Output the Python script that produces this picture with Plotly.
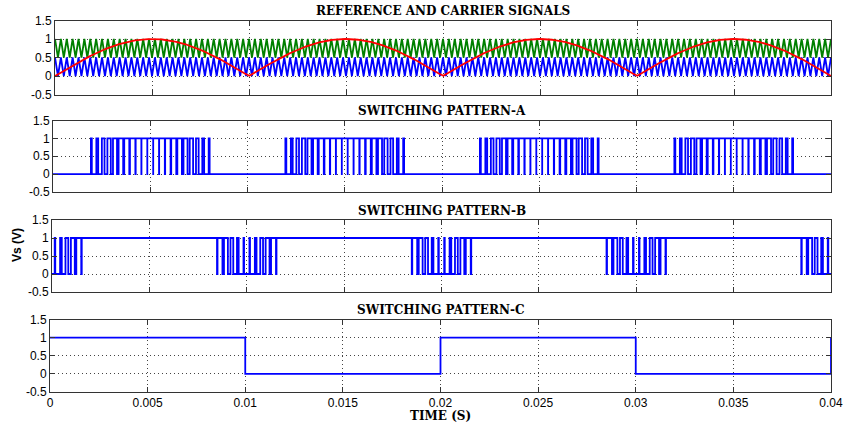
import numpy as np
import plotly.graph_objects as go

# ---- signal parameters and chart text ----
T_END = 0.04                 # s, simulated time span
REF_FREQ = 50.0              # Hz, rectified sine reference
CARRIER_FREQ = 3300.0        # Hz, triangular carriers
UPPER_CARRIER = [0.5, 1.0]   # min / max of the upper (green) carrier
LOWER_CARRIER = [0.0, 0.5]   # min / max of the lower (blue) carrier
PATTERN_C_TIMES = [0.0, 0.01, 0.02, 0.03, 0.04]
PATTERN_C_LEVELS = [1, 0, 1, 0, 1]

X_TICKS = [0, 0.005, 0.01, 0.015, 0.02, 0.025, 0.03, 0.035, 0.04]
X_TICK_TEXT = ["0", "0.005", "0.01", "0.015", "0.02", "0.025", "0.03", "0.035", "0.04"]
Y_TICKS = [-0.5, 0, 0.5, 1, 1.5]
Y_TICK_TEXT = ["-0.5", "0", "0.5", "1", "1.5"]
TITLES = ["REFERENCE AND CARRIER SIGNALS", "SWITCHING PATTERN-A",
          "SWITCHING PATTERN-B", "SWITCHING PATTERN-C"]
X_LABEL = "TIME (S)"
Y_LABEL = "Vs (V)"

BLUE = "#0000FF"
GREEN = "#008000"
RED = "#FF0000"

# ---- waveforms ----
t_fine = np.linspace(0.0, T_END, 400001)
ref_fine = np.abs(np.sin(2 * np.pi * REF_FREQ * t_fine))
phase = (t_fine * CARRIER_FREQ) % 1.0
tri_fine = np.abs(2.0 * phase - 1.0)          # 1 at t=0, 0 at half period


def carrier_level(lims, tri):
    return lims[0] + (lims[1] - lims[0]) * tri


pat_a = (ref_fine > carrier_level(UPPER_CARRIER, tri_fine)).astype(int)
pat_b = (ref_fine > carrier_level(LOWER_CARRIER, tri_fine)).astype(int)


def edges(sig):
    idx = np.flatnonzero(np.diff(sig)) + 1
    keep = np.concatenate(([0], idx, [len(sig) - 1]))
    return t_fine[keep], sig[keep]


ta, ya = edges(pat_a)
tb, yb = edges(pat_b)

# carrier vertices
n_half = int(round(T_END * CARRIER_FREQ * 2))
t_vert = np.arange(n_half + 1) / (2.0 * CARRIER_FREQ)
tri_vert = np.array([1.0 if k % 2 == 0 else 0.0 for k in range(n_half + 1)])
upper_vert = carrier_level(UPPER_CARRIER, tri_vert)
lower_vert = carrier_level(LOWER_CARRIER, tri_vert)

t_ref = np.linspace(0.0, T_END, 2001)
ref = np.abs(np.sin(2 * np.pi * REF_FREQ * t_ref))

# ---- figure ----
W, H = 843, 430
# (left, right, top, bottom) of each axes box in pixels
boxes = [(55, 831, 20.5, 94.5), (53, 831, 120.5, 192),
         (52, 831, 220, 292), (50, 831, 319.5, 392)]

fig = go.Figure()
LW = 1.8
fig.add_trace(go.Scatter(x=t_vert, y=upper_vert, mode="lines",
                         line=dict(color=GREEN, width=LW), xaxis="x", yaxis="y"))
fig.add_trace(go.Scatter(x=t_vert, y=lower_vert, mode="lines",
                         line=dict(color=BLUE, width=LW), xaxis="x", yaxis="y"))
fig.add_trace(go.Scatter(x=t_ref, y=ref, mode="lines",
                         line=dict(color=RED, width=LW), xaxis="x", yaxis="y"))
fig.add_trace(go.Scatter(x=ta, y=ya, mode="lines", line_shape="hv",
                         line=dict(color=BLUE, width=LW), xaxis="x2", yaxis="y2"))
fig.add_trace(go.Scatter(x=tb, y=yb, mode="lines", line_shape="hv",
                         line=dict(color=BLUE, width=LW), xaxis="x3", yaxis="y3"))
fig.add_trace(go.Scatter(x=PATTERN_C_TIMES, y=PATTERN_C_LEVELS, mode="lines",
                         line_shape="hv", line=dict(color=BLUE, width=LW),
                         xaxis="x4", yaxis="y4"))

TICK_FONT = dict(family="Liberation Sans, Arial, sans-serif", size=12, color="#000")
TITLE_FONT = dict(family="DejaVu Serif, Liberation Serif, serif", size=12, color="#000")
YLABEL_FONT = dict(family="Liberation Sans, Arial, sans-serif", size=12, color="#000")
GRID_DASH = "1px,3px"

layout = dict(width=W, height=H,
              margin=dict(l=0, r=0, t=0, b=0, autoexpand=False),
              paper_bgcolor="white", plot_bgcolor="white", showlegend=False)
annotations = []
for i, (l, r, tp, bt) in enumerate(boxes):
    sfx = "" if i == 0 else str(i + 1)
    layout["xaxis" + sfx] = dict(
        domain=[l / W, r / W], range=[0, T_END], anchor="y" + sfx,
        tickvals=X_TICKS, ticktext=X_TICK_TEXT, showticklabels=(i == 3),
        ticks="inside", ticklen=5, tickcolor="#333", showline=True,
        linecolor="#333", linewidth=1, mirror="ticks", showgrid=True,
        gridcolor="#444", griddash=GRID_DASH, gridwidth=1, zeroline=False,
        tickfont=TICK_FONT, ticklabeloverflow="allow", automargin=False)
    layout["yaxis" + sfx] = dict(
        domain=[1 - bt / H, 1 - tp / H], range=[-0.5, 1.5], anchor="x" + sfx,
        tickvals=Y_TICKS, ticktext=Y_TICK_TEXT, ticks="inside", ticklen=5,
        tickcolor="#333", showline=True, linecolor="#333", linewidth=1,
        mirror="ticks", showgrid=True, gridcolor="#444", griddash=GRID_DASH,
        gridwidth=1, zeroline=False, tickfont=TICK_FONT,
        ticklabeloverflow="allow", automargin=False)
    annotations.append(dict(
        text="<b>" + TITLES[i] + "</b>", xref="paper", yref="paper",
        x=(l + r) / 2 / W, y=1 - (tp - 0.5) / H, xanchor="center", yanchor="bottom",
        showarrow=False, font=TITLE_FONT))

annotations.append(dict(text="<b>" + X_LABEL + "</b>", xref="paper", yref="paper",
                        x=440 / W, y=1 - 416 / H, xanchor="center", yanchor="middle",
                        showarrow=False, font=TITLE_FONT))
annotations.append(dict(text="<b>" + Y_LABEL + "</b>", xref="paper", yref="paper",
                        x=17 / W, y=1 - 245 / H, xanchor="center", yanchor="middle",
                        textangle=-90, showarrow=False, font=YLABEL_FONT))
layout["annotations"] = annotations
fig.update_layout(**layout)

fig.write_html("out.html")
